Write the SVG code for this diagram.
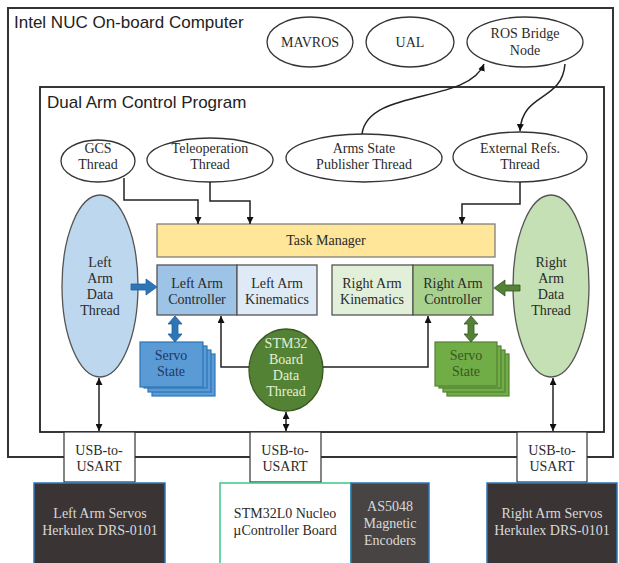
<svg xmlns="http://www.w3.org/2000/svg" width="619" height="563" viewBox="0 0 619 563">
<defs>
<marker id="ah" viewBox="0 0 10 10" refX="10" refY="5" markerWidth="7" markerHeight="7" orient="auto-start-reverse" markerUnits="userSpaceOnUse">
<path d="M0,0 L10,5 L0,10 z" fill="#111"/>
</marker>
</defs>
<style>
.t{font-family:"Liberation Serif","DejaVu Serif",serif;font-size:14px;fill:#2a2a2a;text-anchor:middle}
.h{font-family:"Liberation Sans","DejaVu Sans",sans-serif;font-size:17px;fill:#222}
.ln{fill:none;stroke:#222;stroke-width:1.5}
.el{fill:#fff;stroke:#333;stroke-width:1.3}
.usb{fill:#fff;stroke:#333;stroke-width:1.2}
.dk{fill:#3a3534;stroke:#2e75b6;stroke-width:1.5}
.lt{fill:#d9d9d9}
</style>
<rect width="619" height="563" fill="#fff"/>
<g id="onboard">
<rect x="8" y="8" width="605" height="449" fill="none" stroke="#333" stroke-width="2"/>
<text class="h" x="14" y="28">Intel NUC On-board Computer</text>
</g>
<g id="program">
<rect x="40" y="87" width="564" height="345" fill="none" stroke="#222" stroke-width="1.8"/>
<text class="h" x="47" y="108">Dual Arm Control Program</text>
</g>
<g id="mavros"><ellipse class="el" cx="310" cy="42" rx="43" ry="25"/><text class="t" x="310" y="47">MAVROS</text></g>
<g id="ual"><ellipse class="el" cx="410" cy="42" rx="44" ry="25"/><text class="t" x="410" y="47">UAL</text></g>
<g id="rosbridge"><ellipse class="el" cx="525" cy="42" rx="58" ry="25"/><text class="t" x="525" y="38">ROS Bridge</text><text class="t" x="525" y="55">Node</text></g>
<g id="gcs"><ellipse class="el" cx="98" cy="161" rx="37" ry="21"/><text class="t" x="98" y="153">GCS</text><text class="t" x="98" y="169">Thread</text></g>
<g id="teleop"><ellipse class="el" cx="210" cy="160" rx="63" ry="22"/><text class="t" x="210" y="153">Teleoperation</text><text class="t" x="210" y="169">Thread</text></g>
<g id="armsstate"><ellipse class="el" cx="364" cy="158" rx="78" ry="24"/><text class="t" x="364" y="153">Arms State</text><text class="t" x="364" y="169">Publisher Thread</text></g>
<g id="extrefs"><ellipse class="el" cx="520" cy="157" rx="67" ry="25"/><text class="t" x="520" y="153">External Refs.</text><text class="t" x="520" y="169">Thread</text></g>
<g id="taskmanager"><rect x="157" y="224" width="338" height="33" fill="#ffe699" stroke="#7f7f7f" stroke-width="1.3"/><text class="t" x="326" y="245">Task Manager</text></g>
<g id="leftdata"><ellipse cx="100" cy="286" rx="38" ry="91" fill="#bdd7ee" stroke="#555" stroke-width="1.3"/><text class="t" x="100" y="267">Left</text><text class="t" x="100" y="283">Arm</text><text class="t" x="100" y="299">Data</text><text class="t" x="100" y="315">Thread</text></g>
<g id="rightdata"><ellipse cx="551" cy="286" rx="38" ry="91" fill="#c5e0b4" stroke="#555" stroke-width="1.3"/><text class="t" x="551" y="267">Right</text><text class="t" x="551" y="283">Arm</text><text class="t" x="551" y="299">Data</text><text class="t" x="551" y="315">Thread</text></g>
<g id="leftctrl"><rect x="157" y="265" width="80" height="50" fill="#9dc3e6" stroke="#555" stroke-width="1.3"/><text class="t" x="197" y="288">Left Arm</text><text class="t" x="197" y="304">Controller</text></g>
<g id="leftkin"><rect x="237" y="265" width="80" height="50" fill="#deebf7" stroke="#555" stroke-width="1.3"/><text class="t" x="277" y="288">Left Arm</text><text class="t" x="277" y="304">Kinematics</text></g>
<g id="rightkin"><rect x="332" y="265" width="81" height="50" fill="#e2f0d9" stroke="#555" stroke-width="1.3"/><text class="t" x="372" y="288">Right Arm</text><text class="t" x="372" y="304">Kinematics</text></g>
<g id="rightctrl"><rect x="413" y="265" width="80" height="50" fill="#a9d18e" stroke="#555" stroke-width="1.3"/><text class="t" x="453" y="288">Right Arm</text><text class="t" x="453" y="304">Controller</text></g>
<g id="leftservo">
<rect x="152" y="354" width="63" height="42" fill="#5b9bd5" stroke="#2e75b6" stroke-width="1.2"/>
<rect x="148" y="350" width="63" height="42" fill="#5b9bd5" stroke="#2e75b6" stroke-width="1.2"/>
<rect x="144" y="346" width="63" height="42" fill="#5b9bd5" stroke="#2e75b6" stroke-width="1.2"/>
<rect x="140" y="342" width="63" height="45" fill="#5b9bd5" stroke="#2e75b6" stroke-width="1.2"/>
<text class="t" x="171" y="360" style="fill:#1f3864">Servo</text><text class="t" x="171" y="376" style="fill:#1f3864">State</text>
</g>
<g id="rightservo">
<rect x="447" y="354" width="62" height="42" fill="#70ad47" stroke="#548235" stroke-width="1.2"/>
<rect x="443" y="350" width="62" height="42" fill="#70ad47" stroke="#548235" stroke-width="1.2"/>
<rect x="439" y="346" width="62" height="42" fill="#70ad47" stroke="#548235" stroke-width="1.2"/>
<rect x="435" y="342" width="62" height="44" fill="#70ad47" stroke="#548235" stroke-width="1.2"/>
<text class="t" x="466" y="360" style="fill:#385723">Servo</text><text class="t" x="466" y="376" style="fill:#385723">State</text>
</g>
<g id="stm32thread"><ellipse cx="286" cy="370" rx="37" ry="41" fill="#548235" stroke="#385723" stroke-width="1.3"/><text class="t" x="286" y="348" style="fill:#e2f0d9">STM32</text><text class="t" x="286" y="364" style="fill:#e2f0d9">Board</text><text class="t" x="286" y="380" style="fill:#e2f0d9">Data</text><text class="t" x="286" y="396" style="fill:#e2f0d9">Thread</text></g>
<g id="usb-left"><rect class="usb" x="64" y="432" width="71" height="50"/><text class="t" x="99" y="455">USB-to-</text><text class="t" x="99" y="471">USART</text></g>
<g id="usb-mid"><rect class="usb" x="250" y="432" width="71" height="50"/><text class="t" x="285" y="455">USB-to-</text><text class="t" x="285" y="471">USART</text></g>
<g id="usb-right"><rect class="usb" x="517" y="432" width="70" height="50"/><text class="t" x="552" y="455">USB-to-</text><text class="t" x="552" y="471">USART</text></g>
<g id="leftservos"><rect class="dk" x="34" y="483" width="131" height="84"/><text class="t lt" x="100" y="518">Left Arm Servos</text><text class="t lt" x="100" y="535">Herkulex DRS-0101</text></g>
<g id="nucleo"><rect x="220" y="483" width="131" height="84" fill="#fff" stroke="#3cc68a" stroke-width="1.5"/><text class="t" x="285" y="518">STM32L0 Nucleo</text><text class="t" x="285" y="535">µController Board</text></g>
<g id="encoders"><rect x="351" y="483" width="78" height="84" fill="#484444" stroke="#2e75b6" stroke-width="1.5"/><text class="t lt" x="390" y="511">AS5048</text><text class="t lt" x="390" y="528">Magnetic</text><text class="t lt" x="390" y="545">Encoders</text></g>
<g id="rightservos"><rect class="dk" x="487" y="483" width="130" height="84"/><text class="t lt" x="552" y="518">Right Arm Servos</text><text class="t lt" x="552" y="535">Herkulex DRS-0101</text></g>
<g id="connectors">
<path class="ln" d="M362 134 C368 88, 468 104, 484 64" marker-end="url(#ah)"/>
<path class="ln" d="M565 64 C562 102, 522 92, 520 131" marker-end="url(#ah)"/>
<path class="ln" d="M124 178 V200 H198 V224" marker-end="url(#ah)"/>
<path class="ln" d="M210 182 V201 H250 V224" marker-end="url(#ah)"/>
<path class="ln" d="M520 182 V204 H462 V224" marker-end="url(#ah)"/>
<path class="ln" d="M249 367 H221 V316" marker-end="url(#ah)"/>
<path class="ln" d="M323 367 H428 V316" marker-end="url(#ah)"/>
<path class="ln" d="M99 378 V431" marker-start="url(#ah)" marker-end="url(#ah)"/>
<path class="ln" d="M286 412 V431" marker-start="url(#ah)" marker-end="url(#ah)"/>
<path class="ln" d="M553 378 V431" marker-start="url(#ah)" marker-end="url(#ah)"/>
<polygon points="131,284 146,284 146,279 157,287 146,295 146,290 131,290" fill="#2e75b6" stroke="#1f5f9e" stroke-width="0.8"/>
<polygon points="520,285 505,285 505,280 494,288 505,296 505,291 520,291" fill="#548235" stroke="#385723" stroke-width="0.8"/>
<polygon points="175,316 182,324 178,324 178,334 182,334 175,342 168,334 172,334 172,324 168,324" fill="#2e75b6" stroke="#1f5f9e" stroke-width="0.8"/>
<polygon points="471,316 478,324 474,324 474,334 478,334 471,342 464,334 468,334 468,324 464,324" fill="#548235" stroke="#385723" stroke-width="0.8"/>
</g>
</svg>
